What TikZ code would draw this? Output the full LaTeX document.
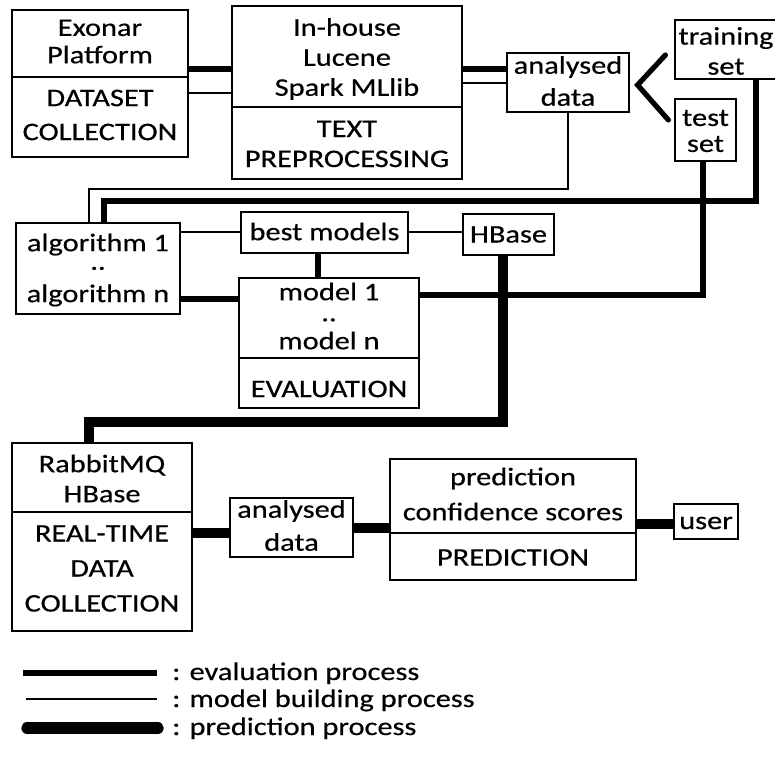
\documentclass[tikz,border=0pt]{standalone}
\usepackage{fontspec}
\setmainfont{Carlito}[FakeStretch=1.2, FakeBold=0.5]
\usetikzlibrary{calc,fit}
\begin{document}
\begin{tikzpicture}[x=0.75pt,y=-0.75pt,
  box/.style={draw, line width=0.9pt, inner sep=0pt},
  txt/.style={inner sep=0pt, align=center, font=\fontsize{19}{22.5}\selectfont},
  evalline/.style={line width=3.9pt},
  buildline/.style={line width=0.8pt},
  predline/.style={line width=7.5pt},
  legtext/.style={anchor=base west, inner sep=0pt, font=\fontsize{19}{22.5}\selectfont},
]
\useasboundingbox (0,0) rectangle (775,770);

% dataset collection
\node[box, fit={(12,10) (188,77)}] (exA) {};
\node[txt] (exAt) at ($(exA.center)+(0,-2)$) {Exonar\\[-2pt]Platform};
\node[box, fit={(12,77) (188,157)}] (exB) {};
\node[txt] (exBt) at ($(exB.center)+(0,-2)$) {DATASET\\[3pt]COLLECTION};
% text preprocessing
\node[box, fit={(232,6) (462,107)}] (inA) {};
\node[txt] (inAt) at ($(inA.center)+(0,2.5)$) {In-house\\Lucene\\Spark MLlib};
\node[box, fit={(232,107) (462,179)}] (inB) {};
\node[txt] (inBt) at ($(inB.center)+(0,1)$) {TEXT\\PREPROCESSING};
% analysed data and sets
\node[box, fit={(507,53) (629,112)}] (an1) {};
\node[txt] (an1t) at ($(an1.center)+(0,-1.5)$) {analysed\\[1.5pt]data};
\node[box, fit={(675,20) (777,79)}] (tr) {};
\node[txt] (trt) at ($(tr.center)+(0,1.5)$) {training\\set};
\node[box, fit={(675,99) (736,161)}] (te) {};
\node[txt] (tet) at ($(te.center)+(0,1)$) {test\\[-3pt]set};
% algorithms and models
\node[box, fit={(16,223) (180,314)}] (alg) {};
\node[txt] (algt) at ($(alg.center)+(0,1.5)$) {algorithm 1\\[-8.6pt]..\\[1.8pt]algorithm n};
\node[box, fit={(241,212) (408,253)}] (bm) {};
\node[txt] (bmt) at ($(bm.center)+(0,-1)$) {best models};
\node[box, fit={(463,214) (554,255)}] (hb) {};
\node[txt] (hbt) at ($(hb.center)+(0,0)$) {HBase};
\node[box, fit={(239,278) (419,358)}] (mdA) {};
\node[txt] (mdAt) at ($(mdA.center)+(0,-2)$) {model 1\\[-6.75pt]..\\[-1.5pt]model n};
\node[box, fit={(239,358) (419,408)}] (mdB) {};
\node[txt] (mdBt) at ($(mdB.center)+(0,6)$) {EVALUATION};
% real-time prediction
\node[box, fit={(12,443) (192,512)}] (rbA) {};
\node[txt] (rbAt) at ($(rbA.center)+(0,1)$) {RabbitMQ\\HBase};
\node[box, fit={(12,512) (192,631)}] (rbB) {};
\node[txt] (rbBt) at ($(rbB.center)+(0,-3)$) {REAL-TIME\\[3.75pt]DATA\\[3.75pt]COLLECTION};
\node[box, fit={(230,498) (353,557)}] (an2) {};
\node[txt] (an2t) at ($(an2.center)+(0,-2)$) {analysed\\[2.25pt]data};
\node[box, fit={(390,459) (636,533)}] (pdA) {};
\node[txt] (pdAt) at ($(pdA.center)+(0,-2)$) {prediction\\[3.75pt]confidence scores};
\node[box, fit={(390,533) (636,580)}] (pdB) {};
\node[txt] (pdBt) at ($(pdB.center)+(0,1)$) {PREDICTION};
\node[box, fit={(674,504) (738,539)}] (us) {};
\node[txt] (ust) at ($(us.center)+(0,1.5)$) {user};

% connectors
\draw[evalline] (exA.east |- 0,69) -- (inA.west |- 0,69);
\draw[buildline] (exB.east |- 0,93) -- (inA.west |- 0,93);
\draw[evalline] (inA.east |- 0,69) -- (an1.west |- 0,69);
\draw[buildline] (inA.east |- 0,83) -- (an1.west |- 0,83);
\draw[evalline, line cap=round] ($(tr.west)+(-9,5.5)$) -- ($(an1.east)+(8,2.5)$) -- ($(te.west)+(-6,-10)$);
\draw[buildline] (an1.south) |- (89,189) -- (alg.north -| 89,0);
\draw[evalline] (tr.south -| 756,0) |- (104,201) -- (alg.north -| 104,0);
\draw[evalline] (te.south -| 703,0) |- (mdA.east |- 0,295);
\draw[buildline] (alg.east |- 0,232) -- (bm.west |- 0,232);
\draw[buildline] (bm.east |- 0,232) -- (hb.west |- 0,232);
\draw[evalline] (bm.south -| 318,0) -- (mdA.north -| 318,0);
\draw[evalline] (alg.east |- 0,299) -- (mdA.west |- 0,299);
\draw[predline] (hb.south -| 503,0) |- (89,422) -- (rbA.north -| 89,0);
\draw[predline] (rbB.east |- 0,533) -- (an2.west |- 0,533);
\draw[predline] (an2.east |- 0,528) -- (pdA.west |- 0,528);
\draw[predline] (pdA.east |- 0,524) -- (us.west |- 0,524);

% legend
\coordinate (l1a) at (23,673); \coordinate (l1b) at (157,673);
\coordinate (l2a) at (26,699); \coordinate (l2b) at (157,699);
\coordinate (l3a) at (27,728); \coordinate (l3b) at (158,728);
\draw[evalline] (l1a) -- (l1b);
\draw[buildline] (l2a) -- (l2b);
\draw[line width=8.5pt, line cap=round] (l3a) -- (l3b);
\node[legtext] (lg1) at (172,680) {: evaluation process};
\node[legtext] (lg2) at (172,707) {: model building process};
\node[legtext] (lg3) at (172,735) {: prediction process};
\end{tikzpicture}
\end{document}
